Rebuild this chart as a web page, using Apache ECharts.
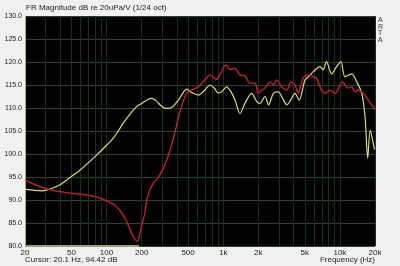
<!DOCTYPE html>
<html>
<head>
<meta charset="utf-8">
<script src="https://cdn.jsdelivr.net/npm/echarts@6/dist/echarts.min.js"></script>
<style>
html, body { margin: 0; padding: 0; background: #f0f0f0; }
#chart { width: 400px; height: 266px; }
</style>
</head>
<body>
<div id="chart"></div>
<script>
/* 数据 */
var yellowFreq = [20, 24, 28, 33, 40, 48.6, 58, 67.6, 78, 88, 100, 114, 126, 139, 160, 181, 200, 225, 244, 265, 290, 320, 345, 374, 420, 486, 520, 555, 612, 690, 770, 840, 904, 980, 1066, 1160, 1262, 1392, 1534, 1752, 1938, 2068, 2280, 2450, 2692, 2960, 3200, 3512, 3800, 4120, 4480, 5020, 5500, 5920, 6740, 7180, 7680, 8500, 9370, 10200, 11060, 12620, 13940, 15400, 16440, 17320, 18200, 19700, 20000];
var yellowDb = [92.3, 92.1, 92.0, 92.4, 93.3, 94.9, 96.3, 97.8, 99.2, 100.5, 101.9, 103.4, 105.0, 106.7, 108.8, 110.3, 111.0, 111.8, 112.1, 111.6, 110.6, 109.9, 109.9, 110.4, 112.0, 114.1, 113.6, 113.2, 112.8, 113.8, 115.0, 114.3, 113.3, 113.6, 114.6, 113.6, 111.7, 108.8, 111.0, 113.2, 111.4, 111.0, 112.5, 110.7, 113.2, 113.5, 112.3, 110.7, 111.8, 113.2, 111.7, 116.1, 117.0, 117.9, 119.0, 118.3, 120.1, 117.4, 119.0, 120.1, 116.8, 117.4, 115.7, 113.2, 108.1, 99.1, 105.2, 101.2, 101.0];

var redFreq = [20, 23, 26.9, 32.8, 40, 48.6, 58, 67.6, 78, 88, 100, 112, 122, 133, 144, 155, 164, 172, 179, 185, 193, 205, 213, 221, 235, 252, 286, 328, 374, 426, 486, 555, 612, 696, 770, 878, 960, 1052, 1156, 1262, 1392, 1534, 1696, 1874, 2000, 2140, 2280, 2518, 2700, 2870, 3170, 3512, 3800, 4120, 4390, 4840, 5360, 5920, 6300, 6960, 7456, 8240, 9110, 10480, 11800, 12620, 13480, 14300, 15880, 17540, 19300, 20000];
var redDb = [94.4, 93.6, 92.9, 92.2, 91.8, 91.5, 91.3, 91.1, 90.8, 90.4, 89.8, 89.2, 88.5, 87.4, 86.0, 84.3, 82.8, 81.8, 81.2, 81.1, 82.6, 85.5, 87.1, 90.0, 92.2, 93.6, 95.4, 98.7, 103.4, 109.2, 113.2, 114.1, 114.6, 116.1, 117.2, 116.2, 117.8, 119.3, 118.4, 118.6, 117.2, 117.0, 115.4, 115.4, 113.2, 113.9, 114.3, 115.7, 115.0, 116.1, 114.6, 113.9, 115.7, 115.0, 113.2, 116.5, 117.2, 116.8, 116.5, 113.9, 113.2, 113.9, 113.2, 115.7, 114.3, 114.6, 113.5, 113.9, 113.2, 111.7, 110.3, 109.6];

var markerFreq = [20, 190];
var markerDb = [80, 80];

var gridFreq = [20, 30, 40, 50, 60, 70, 80, 90, 100, 200, 300, 400, 500, 600, 700, 800, 900, 1000, 2000, 3000, 4000, 5000, 6000, 7000, 8000, 9000, 10000, 20000];
var labelFreq = [20, 50, 100, 200, 500, 1000, 2000, 5000, 10000, 20000];
var labelText = ['20', '50', '100', '200', '500', '1k', '2k', '5k', '10k', '20k'];

var titleText = 'FR Magnitude dB re 20uPa/V (1/24 oct)';
var cursorText = 'Cursor: 20.1 Hz, 94.42 dB';
var xName = 'Frequency (Hz)';

/* 对数坐标换算 */
function lg(f) { return Math.log10(f); }
function pairs(fs, ds) {
	return fs.map(function (f, i) { return [lg(f), ds[i]]; });
}
function labelFor(v) {
	for (var i = 0; i < labelFreq.length; i++) {
		if (Math.abs(lg(labelFreq[i]) - v) < 1e-6) return labelText[i];
	}
	return '';
}

var font = '"Liberation Sans", Arial, sans-serif';
var chart = echarts.init(document.getElementById('chart'), null, { renderer: 'canvas' });

var option = {
	backgroundColor: '#f0f0f0',
	animation: false,
	grid: {
		left: 25, right: 25, top: 16, bottom: 20,
		show: true, backgroundColor: '#000', borderWidth: 0
	},
	graphic: [
		{ type: 'text', left: 26, top: 4, style: { text: titleText, font: '8px ' + font, fill: '#222' } },
		{ type: 'text', left: 25, top: 256, style: { text: cursorText, font: '8px ' + font, fill: '#222' } },
		{ type: 'text', right: 25, top: 256, style: { text: xName, font: '8px ' + font, fill: '#222', align: 'right' } },
		{ type: 'text', left: 378, top: 17, style: { text: 'A\nR\nT\nA', font: '7px ' + font, fill: '#333', lineHeight: 6.5 } }
	],
	xAxis: {
		type: 'value',
		min: lg(20), max: lg(20000),
		axisLine: { show: false },
		axisTick: { show: false, customValues: gridFreq.map(lg) },
		axisLabel: {
			customValues: labelFreq.map(lg),
			formatter: labelFor,
			color: '#222', fontSize: 8, fontFamily: font, margin: 3
		},
		splitLine: { show: true, lineStyle: { color: '#173020', width: 1 } }
	},
	yAxis: {
		type: 'value',
		min: 80, max: 130, interval: 5,
		axisLine: { show: true, lineStyle: { color: '#a8b868', width: 1 } },
		axisTick: { show: false },
		axisLabel: {
			formatter: function (v) { return v.toFixed(1); },
			color: '#222', fontSize: 7, fontFamily: font, margin: 3
		},
		splitLine: { show: true, lineStyle: { color: '#28462f', width: 1 } }
	},
	series: [
		{
			name: 'marker', type: 'line', data: pairs(markerFreq, markerDb),
			symbol: 'none', clip: false, silent: true,
			lineStyle: { color: '#98a858', width: 2 }
		},
		{
			name: 'yellow', type: 'line', data: pairs(yellowFreq, yellowDb),
			symbol: 'none', smooth: 0.3,
			lineStyle: { color: '#dcdc6c', width: 1.2 }
		},
		{
			name: 'red', type: 'line', data: pairs(redFreq, redDb),
			symbol: 'none', smooth: 0.3,
			lineStyle: { color: '#d41e2c', width: 1.3 }
		}
	]
};
chart.setOption(option);
</script>
</body>
</html>
